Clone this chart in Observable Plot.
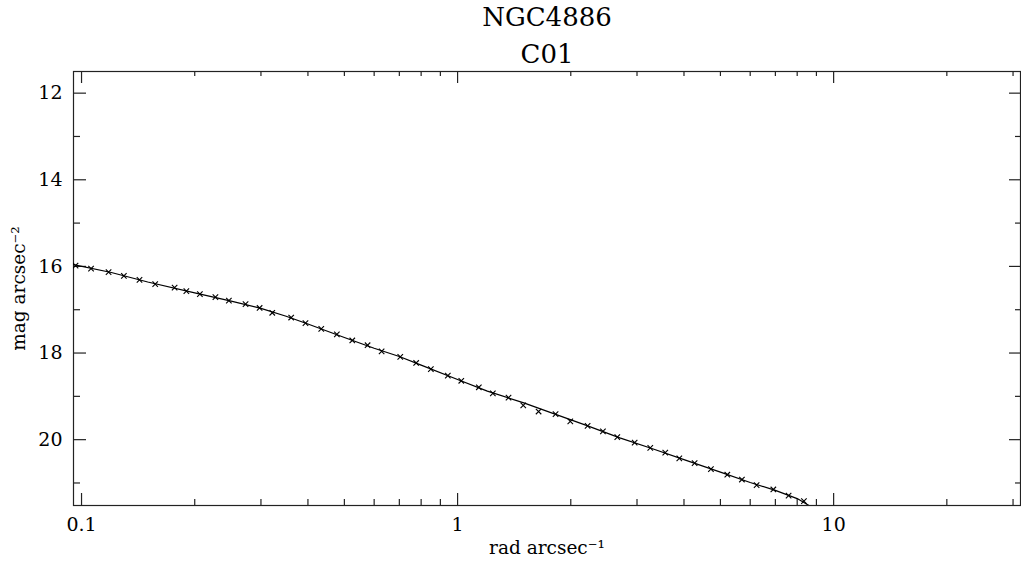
<!DOCTYPE html>
<html>
<head>
<meta charset="utf-8">
<script src="https://cdn.jsdelivr.net/npm/d3@7"></script>
<script src="https://cdn.jsdelivr.net/npm/@observablehq/plot@0.6"></script>
<style>
  html, body { margin: 0; padding: 0; background: #fff; }
  #chart svg { display: block; }
</style>
</head>
<body>
<div id="chart"></div>
<script>
// ---- data ----
const titleLines = ["NGC4886", "C01"];
const xLabel = "rad arcsec⁻¹";
const yLabel = "mag arcsec⁻²";

// observed profile points (x markers)
const radius = [0.0964, 0.106, 0.118, 0.1296, 0.1426, 0.157, 0.1768, 0.190, 0.2064, 0.227,
  0.2465, 0.273, 0.2975, 0.3215, 0.361, 0.394, 0.434, 0.4775, 0.5248, 0.5763,
  0.628, 0.704, 0.776, 0.849, 0.942, 1.023, 1.139, 1.241, 1.366, 1.495,
  1.642, 1.822, 1.994, 2.217, 2.435, 2.659, 2.957, 3.254, 3.567, 3.887,
  4.269, 4.717, 5.215, 5.703, 6.24, 6.913, 7.59, 8.337];
const surfMag = [15.98, 16.05, 16.13, 16.22, 16.31, 16.41, 16.49, 16.57, 16.64, 16.71,
  16.79, 16.87, 16.96, 17.07, 17.18, 17.31, 17.44, 17.57, 17.71, 17.82,
  17.96, 18.09, 18.23, 18.37, 18.52, 18.64, 18.79, 18.93, 19.03, 19.21,
  19.35, 19.41, 19.58, 19.68, 19.81, 19.94, 20.07, 20.19, 20.30, 20.43,
  20.54, 20.68, 20.81, 20.92, 21.05, 21.15, 21.29, 21.42];

// model curve (solid line)
const modelR = [0.0952, 0.12, 0.15, 0.2, 0.25, 0.3, 0.35, 0.4, 0.5, 0.6, 0.7, 0.8, 1.0,
  1.2, 1.5, 1.8, 2.2, 2.7, 3.3, 4.0, 5.0, 6.0, 7.0, 8.0, 8.6, 9.0];
const modelMag = [15.96, 16.14, 16.36, 16.61, 16.80, 16.97, 17.15, 17.33, 17.64, 17.89, 18.08, 18.28, 18.61,
  18.88, 19.15, 19.40, 19.67, 19.96, 20.21, 20.46, 20.75, 20.99, 21.17, 21.36, 21.52, 21.59];

// axes
const xMajor = [0.1, 1, 10];
const xMinor = [0.2, 0.3, 0.4, 0.5, 0.6, 0.7, 0.8, 0.9, 2, 3, 4, 5, 6, 7, 8, 9, 20, 30];
const yMajor = [12, 14, 16, 18, 20];
const yMinor = [13, 15, 17, 19, 21];
const xDomain = [0.0952, 31.4];
const yDomain = [11.5, 21.52];

// ---- build ----
const points = radius.map((r, i) => ({r, m: surfMag[i]}));
const model = modelR.map((r, i) => ({r, m: modelMag[i]}));

const W = 1021, H = 563;
const mL = 73, mR = 1, mT = 71, mB = 58;
const pw = W - mL - mR, ph = H - mT - mB;
const font = "DejaVu Serif";

const chart = Plot.plot({
  width: W,
  height: H,
  marginLeft: mL,
  marginRight: mR,
  marginTop: mT,
  marginBottom: mB,
  style: {fontFamily: font, background: "#fff", color: "#000"},
  x: {type: "log", domain: xDomain},
  y: {domain: yDomain, reverse: true},
  marks: [
    Plot.frame({stroke: "#222", strokeWidth: 1.2}),
    // inward ticks: y left / right
    Plot.tickY(yMajor, {y: d => d, insetRight: pw - 13, stroke: "#222", strokeWidth: 1.2}),
    Plot.tickY(yMinor, {y: d => d, insetRight: pw - 7, stroke: "#222", strokeWidth: 1.2}),
    Plot.tickY(yMajor, {y: d => d, insetLeft: pw - 11, stroke: "#222", strokeWidth: 1.2}),
    Plot.tickY(yMinor, {y: d => d, insetLeft: pw - 5, stroke: "#222", strokeWidth: 1.2}),
    // inward ticks: x bottom / top
    Plot.tickX(xMajor, {x: d => d, insetTop: ph - 12, stroke: "#222", strokeWidth: 1.2}),
    Plot.tickX(xMinor, {x: d => d, insetTop: ph - 6, stroke: "#222", strokeWidth: 1.2}),
    Plot.tickX(xMajor, {x: d => d, insetBottom: ph - 12, stroke: "#222", strokeWidth: 1.2}),
    Plot.tickX(xMinor, {x: d => d, insetBottom: ph - 5, stroke: "#222", strokeWidth: 1.2}),
    // tick labels
    Plot.axisY({ticks: yMajor, tickSize: 0, tickPadding: 11, fontSize: 19, label: null, anchor: "left"}),
    Plot.axisX({ticks: xMajor, tickFormat: d => String(d), tickSize: 0, tickPadding: 12, fontSize: 19, label: null, anchor: "bottom"}),
    // data
    Plot.line(model, {x: "r", y: "m", stroke: "#000", strokeWidth: 1.2, clip: true}),
    Plot.dot(points, {x: "r", y: "m", symbol: "times", r: 2.6, stroke: "#000", strokeWidth: 1.1, clip: true}),
    // titles and axis labels
    Plot.text([titleLines[0]], {text: d => d, frameAnchor: "top", lineAnchor: "middle", dy: -54, fontSize: 26, fill: "#000"}),
    Plot.text([titleLines[1]], {text: d => d, frameAnchor: "top", lineAnchor: "middle", dy: -17, fontSize: 26, fill: "#000"}),
    Plot.text([xLabel], {text: d => d, frameAnchor: "bottom", lineAnchor: "middle", dy: 43, fontSize: 18.5, fill: "#000"}),
    Plot.text([yLabel], {text: d => d, frameAnchor: "left", textAnchor: "middle", lineAnchor: "middle", dx: -54, rotate: -90, fontSize: 18.5, fill: "#000"})
  ]
});
document.getElementById("chart").appendChild(chart);
</script>
</body>
</html>
